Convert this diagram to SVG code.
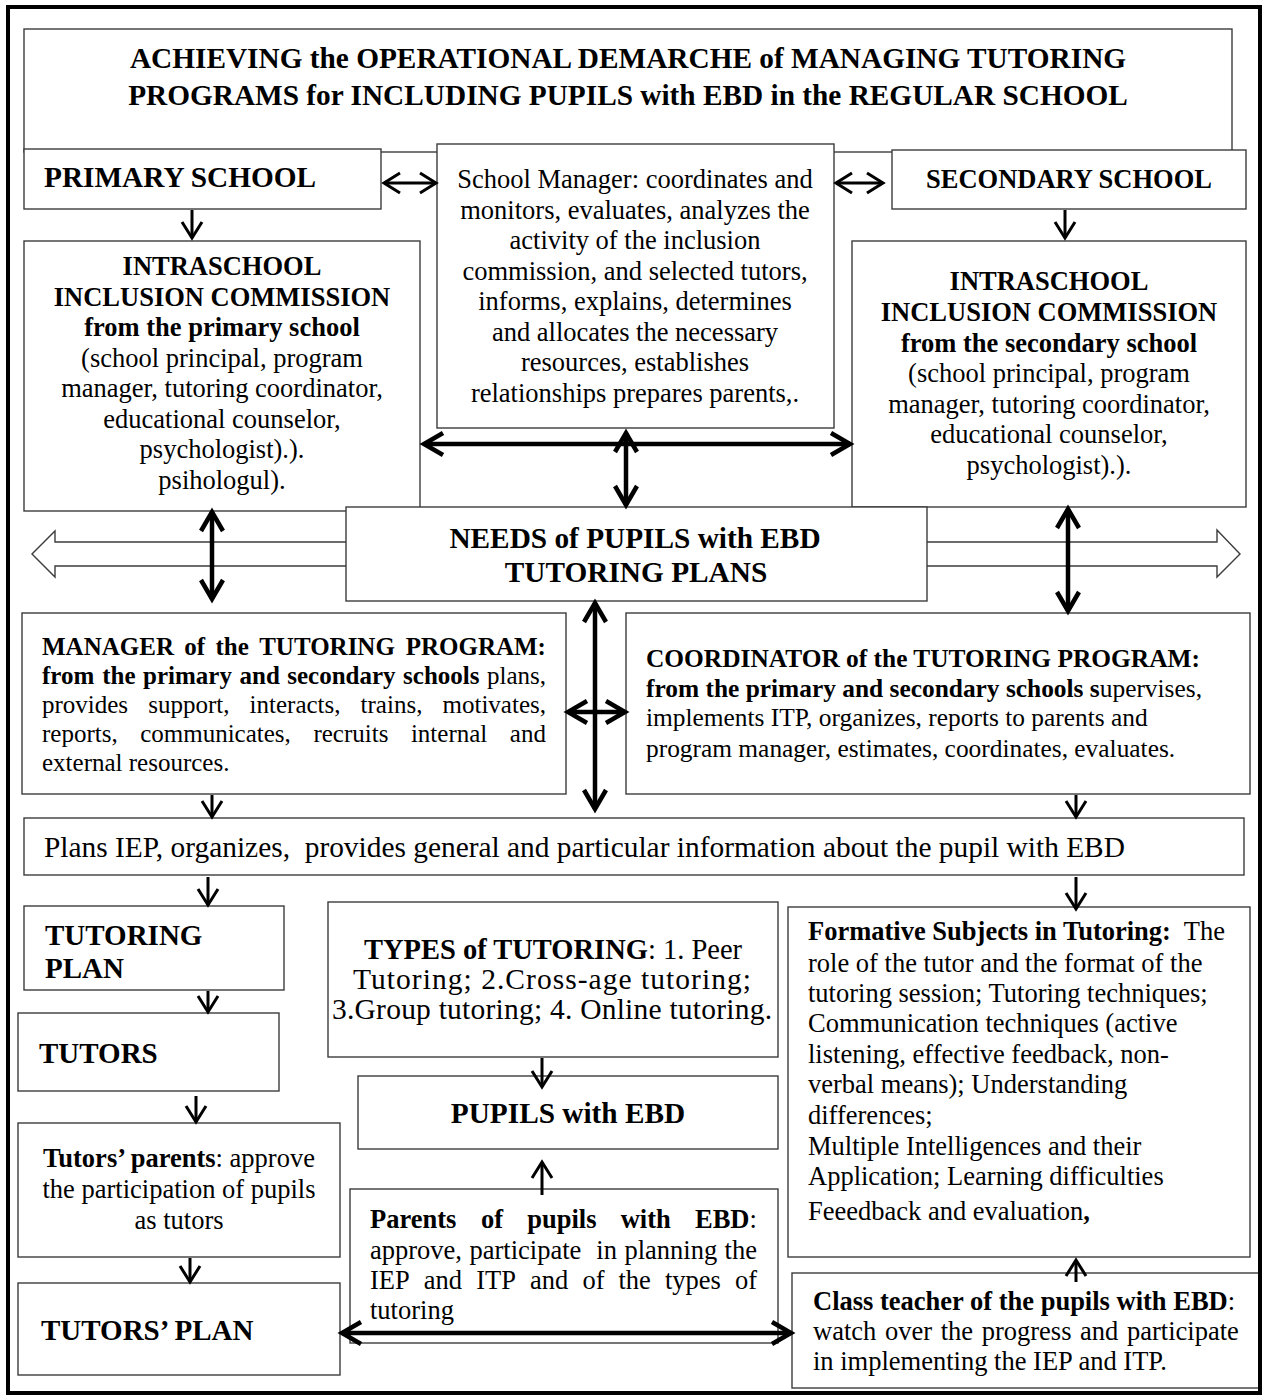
<svg xmlns="http://www.w3.org/2000/svg" width="1266" height="1396" viewBox="0 0 1266 1396">
<defs>
<style>
.box{fill:#fff;stroke:#3c3c3c;stroke-width:1.4}
text{font-family:"Liberation Serif","Times New Roman",serif;fill:#000;font-size:26.5px}
.b{font-weight:bold}
.c{text-anchor:middle}
.h{font-size:29.3px;font-weight:bold}
.m{font-size:25px}
.m2{font-size:25.4px}
.ty{font-size:28.5px}
.a{stroke:#000;stroke-width:3;fill:none}
.at{stroke:#000;stroke-width:4.5;fill:none}
</style>
<marker id="ah" markerUnits="userSpaceOnUse" viewBox="-20 -14 24 28" refX="0" refY="0" markerWidth="24" markerHeight="28" orient="auto-start-reverse" overflow="visible">
<path d="M-16,-10 L0,0 L-16,10" fill="none" stroke="#000" stroke-width="3"/>
</marker>
<marker id="aht" markerUnits="userSpaceOnUse" viewBox="-24 -16 28 32" refX="0" refY="0" markerWidth="28" markerHeight="32" orient="auto-start-reverse" overflow="visible">
<path d="M-19,-11 L0,0 L-19,11" fill="none" stroke="#000" stroke-width="4.5"/>
</marker>
</defs>
<rect width="1266" height="1396" fill="#fff"/>

<g id="title">
<rect class="box" x="24" y="29" width="1208" height="123"/>
<text class="h c" x="628" y="68">ACHIEVING the OPERATIONAL DEMARCHE of MANAGING TUTORING</text>
<text class="h c" x="628" y="105">PROGRAMS for INCLUDING PUPILS with EBD in the REGULAR SCHOOL</text>
</g>

<g id="primary-school">
<rect class="box" x="24" y="149" width="357" height="60"/>
<text class="h" x="44" y="187">PRIMARY SCHOOL</text>
</g>

<g id="school-manager">
<rect class="box" x="437" y="144" width="397" height="284"/>
<text class="c" x="635" y="188">School Manager: coordinates and</text>
<text class="c" x="635" y="218.5">monitors, evaluates, analyzes the</text>
<text class="c" x="635" y="249">activity of the inclusion</text>
<text class="c" x="635" y="279.5">commission, and selected tutors,</text>
<text class="c" x="635" y="310">informs, explains, determines</text>
<text class="c" x="635" y="340.5">and allocates the necessary</text>
<text class="c" x="635" y="371">resources, establishes</text>
<text class="c" x="635" y="401.5">relationships prepares parents,.</text>
</g>

<g id="secondary-school">
<rect class="box" x="892" y="150" width="354" height="59"/>
<text class="b c" x="1069" y="188">SECONDARY SCHOOL</text>
</g>

<g id="commission-primary">
<rect class="box" x="24" y="241" width="396" height="270"/>
<text class="b c" x="222" y="275">INTRASCHOOL</text>
<text class="b c" x="222" y="305.5">INCLUSION COMMISSION</text>
<text class="b c" x="222" y="336">from the primary school</text>
<text class="c" x="222" y="366.5">(school principal, program</text>
<text class="c" x="222" y="397">manager, tutoring coordinator,</text>
<text class="c" x="222" y="427.5">educational counselor,</text>
<text class="c" x="222" y="458">psychologist).).</text>
<text class="c" x="222" y="488.5">psihologul).</text>
</g>

<g id="commission-secondary">
<rect class="box" x="852" y="241" width="394" height="266"/>
<text class="b c" x="1049" y="290">INTRASCHOOL</text>
<text class="b c" x="1049" y="321">INCLUSION COMMISSION</text>
<text class="b c" x="1049" y="351.5">from the secondary school</text>
<text class="c" x="1049" y="382">(school principal, program</text>
<text class="c" x="1049" y="412.5">manager, tutoring coordinator,</text>
<text class="c" x="1049" y="443">educational counselor,</text>
<text class="c" x="1049" y="473.5">psychologist).).</text>
</g>

<g id="needs">
<path class="box" d="M32,554 L55,531 L55,542 L1217,542 L1217,530 L1240,554 L1217,577 L1217,566 L55,566 L55,577 Z"/>
<rect class="box" x="346" y="507" width="581" height="94"/>
<text class="h c" x="635" y="548">NEEDS of PUPILS with EBD</text>
<text class="h c" x="636" y="582">TUTORING PLANS</text>
</g>

<g id="program-manager">
<rect class="box" x="22" y="613" width="544" height="181"/>
<text class="m b" y="655"><tspan x="42">MANAGER</tspan><tspan x="184.3">of</tspan><tspan x="215.5">the</tspan><tspan x="259.2">TUTORING</tspan><tspan x="405.7">PROGRAM:</tspan></text>
<text class="m" y="684"><tspan class="b" x="42">from</tspan><tspan class="b" x="102.3">the</tspan><tspan class="b" x="143.1">primary</tspan><tspan class="b" x="239.5">and</tspan><tspan class="b" x="287.3">secondary</tspan><tspan class="b" x="403.1">schools</tspan><tspan x="487">plans,</tspan></text>
<text class="m" y="713"><tspan x="42">provides</tspan><tspan x="148.2">support,</tspan><tspan x="249.6">interacts,</tspan><tspan x="360.6">trains,</tspan><tspan x="442.5">motivates,</tspan></text>
<text class="m" y="742"><tspan x="42">reports,</tspan><tspan x="140.2">communicates,</tspan><tspan x="313.4">recruits</tspan><tspan x="410.9">internal</tspan><tspan x="509.8">and</tspan></text>
<text class="m" x="42" y="771">external resources.</text>
</g>

<g id="program-coordinator">
<rect class="box" x="626" y="613" width="624" height="181"/>
<text class="m2 b" x="646" y="667">COORDINATOR of the TUTORING PROGRAM:</text>
<text class="m2" x="646" y="697"><tspan class="b">from the primary and secondary schools s</tspan>upervises,</text>
<text class="m2" x="646" y="726">implements ITP, organizes, reports to parents and</text>
<text class="m2" x="646" y="757">program manager, estimates, coordinates, evaluates.</text>
</g>

<g id="plans-iep">
<rect class="box" x="24" y="818" width="1220" height="57"/>
<text x="44" y="857" style="font-size:29.4px">Plans IEP, organizes,&#160; provides general and particular information about the pupil with EBD</text>
</g>

<g id="tutoring-plan">
<rect class="box" x="24" y="906" width="260" height="84"/>
<text class="b" x="45" y="945" style="font-size:29px">TUTORING</text>
<text class="b" x="45" y="978" style="font-size:29px">PLAN</text>
</g>

<g id="tutors">
<rect class="box" x="18" y="1013" width="261" height="78"/>
<text class="b" x="39" y="1063" style="font-size:29px">TUTORS</text>
</g>

<g id="tutors-parents">
<rect class="box" x="18" y="1123" width="322" height="134"/>
<text class="c" x="179" y="1167"><tspan class="b">Tutors’ parents</tspan>: approve</text>
<text class="c" x="179" y="1198">the participation of pupils</text>
<text class="c" x="179" y="1229">as tutors</text>
</g>

<g id="tutors-plan">
<rect class="box" x="18" y="1283" width="322" height="92"/>
<text class="b" x="41" y="1340" style="font-size:29px">TUTORS’ PLAN</text>
</g>

<g id="types-of-tutoring">
<rect class="box" x="328" y="902" width="450" height="155"/>
<text class="ty c" x="553" y="959"><tspan class="b">TYPES of TUTORING</tspan>: 1. Peer</text>
<text class="c" x="552" y="989" style="font-size:29.5px" textLength="398" lengthAdjust="spacing">Tutoring; 2.Cross-age tutoring;</text>
<text class="c" x="552" y="1019" style="font-size:29.5px" textLength="440" lengthAdjust="spacing">3.Group tutoring; 4. Online tutoring.</text>
</g>

<g id="pupils-ebd">
<rect class="box" x="358" y="1076" width="420" height="73"/>
<text class="h c" x="568" y="1123">PUPILS with EBD</text>
</g>

<g id="parents-ebd">
<rect class="box" x="350" y="1189" width="428" height="154"/>
<text y="1228"><tspan class="b" x="370">Parents</tspan><tspan class="b" x="481">of</tspan><tspan class="b" x="527.3">pupils</tspan><tspan class="b" x="620.7">with</tspan><tspan class="b" x="695">EBD</tspan><tspan>:</tspan></text>
<text y="1258.5"><tspan x="370">approve,</tspan><tspan x="469.5">participate</tspan><tspan x="596.3">in</tspan><tspan x="624.4">planning</tspan><tspan x="724.6">the</tspan></text>
<text y="1289"><tspan x="370">IEP</tspan><tspan x="423.8">and</tspan><tspan x="476.2">ITP</tspan><tspan x="530">and</tspan><tspan x="582.4">of</tspan><tspan x="618.5">the</tspan><tspan x="665">types</tspan><tspan x="734.9">of</tspan></text>
<text x="370" y="1319">tutoring</text>
</g>

<g id="formative-subjects">
<rect class="box" x="788" y="907" width="462" height="350"/>
<text x="808" y="940"><tspan class="b">Formative Subjects in Tutoring:</tspan>&#160; The</text>
<text x="808" y="971.5">role of the tutor and the format of the</text>
<text x="808" y="1001.5">tutoring session; Tutoring techniques;</text>
<text x="808" y="1031.5">Communication techniques (active</text>
<text x="808" y="1062.5">listening, effective feedback, non-</text>
<text x="808" y="1092.5">verbal means); Understanding</text>
<text x="808" y="1123.5">differences;</text>
<text x="808" y="1155">Multiple Intelligences and their</text>
<text x="808" y="1185">Application; Learning difficulties</text>
<text x="808" y="1220">Feeedback and evaluation<tspan class="b">,</tspan></text>
</g>

<g id="class-teacher">
<rect class="box" x="792" y="1273" width="467" height="115"/>
<text x="813" y="1310"><tspan class="b">Class teacher of the pupils with EBD</tspan>:</text>
<text y="1340"><tspan x="813">watch</tspan><tspan x="884.9">over</tspan><tspan x="940.7">the</tspan><tspan x="981.7">progress</tspan><tspan x="1080.1">and</tspan><tspan x="1127">participate</tspan></text>
<text x="813" y="1370">in implementing the IEP and ITP.</text>
</g>

<g id="connectors">
<line class="a" x1="384" y1="183" x2="436" y2="183" marker-start="url(#ah)" marker-end="url(#ah)"/>
<line class="a" x1="836" y1="183" x2="883" y2="183" marker-start="url(#ah)" marker-end="url(#ah)"/>
<line class="a" x1="192" y1="210" x2="192" y2="238" marker-end="url(#ah)"/>
<line class="a" x1="1065" y1="210" x2="1065" y2="238" marker-end="url(#ah)"/>
<line class="at" x1="424" y1="444" x2="850" y2="444" marker-start="url(#aht)" marker-end="url(#aht)"/>
<line class="at" x1="626" y1="433" x2="626" y2="505" marker-start="url(#aht)" marker-end="url(#aht)"/>
<line class="at" x1="212" y1="512" x2="212" y2="599" marker-start="url(#aht)" marker-end="url(#aht)"/>
<line class="at" x1="1068" y1="509" x2="1068" y2="611" marker-start="url(#aht)" marker-end="url(#aht)"/>
<line class="at" x1="595" y1="603" x2="595" y2="809" marker-start="url(#aht)" marker-end="url(#aht)"/>
<line class="at" x1="568" y1="712" x2="625" y2="712" marker-start="url(#aht)" marker-end="url(#aht)"/>
<line class="a" x1="212" y1="795" x2="212" y2="817" marker-end="url(#ah)"/>
<line class="a" x1="1076" y1="795" x2="1076" y2="817" marker-end="url(#ah)"/>
<line class="a" x1="208" y1="877" x2="208" y2="905" marker-end="url(#ah)"/>
<line class="a" x1="1076" y1="877" x2="1076" y2="909" marker-end="url(#ah)"/>
<line class="a" x1="208" y1="991" x2="208" y2="1012" marker-end="url(#ah)"/>
<line class="a" x1="196" y1="1096" x2="196" y2="1122" marker-end="url(#ah)"/>
<line class="a" x1="190" y1="1258" x2="190" y2="1282" marker-end="url(#ah)"/>
<line class="a" x1="542" y1="1058" x2="542" y2="1087" marker-end="url(#ah)"/>
<line class="a" x1="542" y1="1195" x2="542" y2="1162" marker-end="url(#ah)"/>
<line class="at" x1="342" y1="1333" x2="791" y2="1333" marker-start="url(#aht)" marker-end="url(#aht)"/>
<line class="a" x1="1076" y1="1282" x2="1076" y2="1260" marker-end="url(#ah)"/>
</g>

<g id="frame">
<rect x="8" y="7" width="1252" height="1386" fill="none" stroke="#000" stroke-width="4"/>
</g>
</svg>
